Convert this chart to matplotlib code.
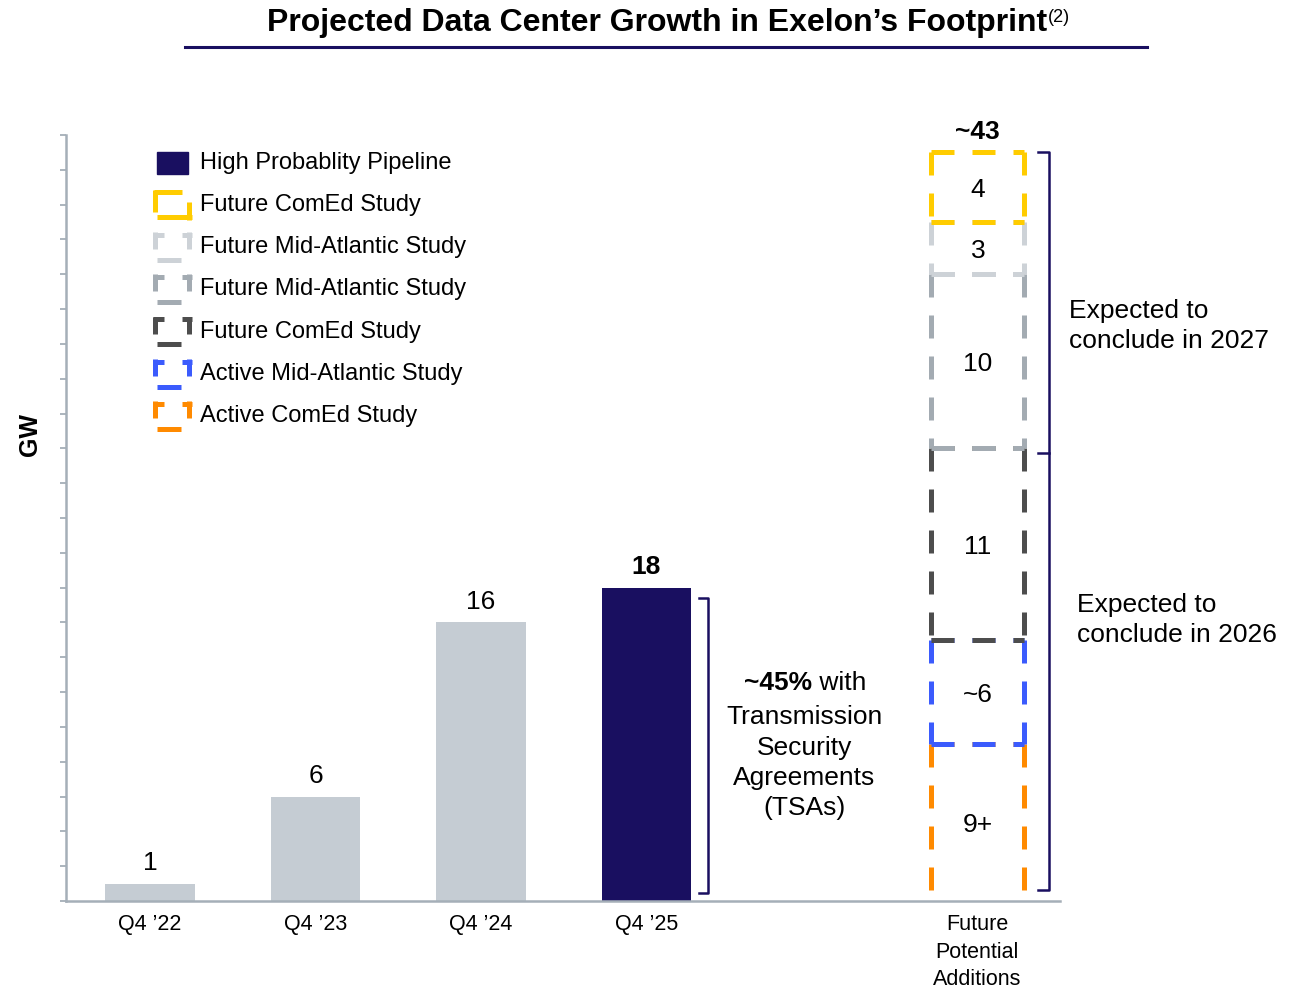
import matplotlib
matplotlib.use("Agg")
import matplotlib.pyplot as plt
from matplotlib.lines import Line2D
from matplotlib.transforms import Affine2D
import numpy as np

plt.rcParams['font.family'] = ['Liberation Sans', 'DejaVu Sans']

# ---- data ----
periods = ["Q4 \u201922", "Q4 \u201923", "Q4 \u201924", "Q4 \u201925"]
gw = [1, 6, 16, 18]
bar_colors = ["#c5ccd3", "#c5ccd3", "#c5ccd3", "#190f60"]

future_label = "Future\nPotential\nAdditions"
future_gw = [9, 6, 11, 10, 3, 4]
future_text = ["9+", "~6", "11", "10", "3", "4"]
future_colors = ["#ff8a00", "#3b5bfd", "#4d4d4d", "#a3abb2", "#cdd2d7", "#ffcc00"]
future_total = "~43"

legend_names = ["High Probablity Pipeline", "Future ComEd Study", "Future Mid-Atlantic Study",
                "Future Mid-Atlantic Study", "Future ComEd Study", "Active Mid-Atlantic Study",
                "Active ComEd Study"]
legend_colors = ["#190f60", "#ffcc00", "#cdd2d7", "#a3abb2", "#4d4d4d", "#3b5bfd", "#ff8a00"]

navy = "#190f60"
axis_gray = "#a5afb8"

W, H = 1299, 989
fig = plt.figure(figsize=(W / 100, H / 100), dpi=100)
ax = fig.add_axes([66 / W, 1 - 901 / H, (1060 - 66) / W, (901 - 135) / H])
px = Affine2D().scale(1 / W, -1 / H).translate(0, 1) + fig.transFigure

# bars
x = np.arange(len(gw))
ax.bar(x, gw, width=0.54, color=bar_colors, zorder=2)
for xi, v in zip(x, gw):
    ax.annotate(str(v), (xi, v), xytext=(0, 14.5), textcoords='offset points',
                ha='center', va='center', fontsize=19,
                fontweight='bold' if v == gw[-1] else 'normal')

# future stacked dashed boxes
fx = 5
hw = 0.28
dash = (0, (4.6, 3.6))
bottoms = np.concatenate([[0], np.cumsum(future_gw)[:-1]])
for i, (b, h, c, t) in enumerate(zip(bottoms, future_gw, future_colors, future_text)):
    top = b + h
    kw = dict(color=c, lw=3.6, linestyle=dash, solid_capstyle='butt', dash_capstyle='butt', zorder=3)
    ax.plot([fx - hw, fx - hw], [top, b], **kw)
    ax.plot([fx + hw, fx + hw], [top, b], **kw)
    ax.plot([fx - hw, fx + hw], [top, top], **kw)
    if i > 0:
        ax.plot([fx - hw, fx + hw], [b, b], **kw)
    ax.annotate(t, (fx, b + h / 2), xytext=(0.5, -2), textcoords='offset points',
                ha='center', va='center', fontsize=19)
ax.annotate(future_total, (fx, sum(future_gw)), xytext=(0, 14.5), textcoords='offset points',
            ha='center', va='center', fontsize=19, fontweight='bold')

# brackets
bk = dict(color=navy, lw=1.8, clip_on=False, zorder=4)
ax.plot([3.32, 3.37, 3.37, 3.32], [17.4, 17.4, 0.45, 0.45], **bk)
ax.plot([5.37, 5.434, 5.434, 5.37], [43.05, 43.05, 0.63, 0.63], **bk)
ax.plot([5.37, 5.434], [25.75, 25.75], **bk)

# annotations
ax.text(4.0, 12.5, "~45%", ha='right', va='center', fontsize=19, fontweight='bold')
ax.text(4.0, 12.5, " with", ha='left', va='center', fontsize=19)
ax.text(3.955, 7.95, "Transmission\nSecurity\nAgreements\n(TSAs)", ha='center', va='center',
        fontsize=19, linespacing=1.32)
ax.text(5.556, 33.05, "Expected to\nconclude in 2027", ha='left', va='center', fontsize=19,
        linespacing=1.32)
ax.text(5.604, 16.15, "Expected to\nconclude in 2026", ha='left', va='center', fontsize=19,
        linespacing=1.32)

# axes styling
ax.set_xlim(-0.508, 5.5)
ax.set_ylim(0, 44)
ax.set_xticks(list(x) + [fx])
ax.set_xticklabels(periods + [future_label], fontsize=15.5)
for lab in ax.get_xticklabels():
    lab.set_linespacing(1.4)
ax.tick_params(axis='x', length=0, pad=9.5)
ax.set_yticks(np.arange(0, 45, 2))
ax.set_yticklabels([])
ax.tick_params(axis='y', direction='out', length=4.5, width=1.3, color=axis_gray)
for s in ['top', 'right']:
    ax.spines[s].set_visible(False)
for s in ['left', 'bottom']:
    ax.spines[s].set_color(axis_gray)
    ax.spines[s].set_linewidth(1.8)
ax.patch.set_alpha(0)

fig.text(30 / W, 1 - 434 / H, "GW", rotation=90, ha='center', va='center', fontsize=18, fontweight='bold')

# title
fig.text(267 / W, 1 - 23 / H, "Projected Data Center Growth in Exelon\u2019s Footprint",
         ha='left', va='center', fontsize=23, fontweight='bold')
fig.text(1048 / W, 1 - 17 / H, "(2)", ha='left', va='center', fontsize=13)
fig.add_artist(Line2D([185, 1147], [47, 47], transform=px, color=navy, lw=2.2))

# legend drawn by hand
for i, (name, c) in enumerate(zip(legend_names, legend_colors)):
    yc = 162.5 + i * 42.3
    fig.text(200 / W, 1 - yc / H, name, ha='left', va='center', fontsize=17)
    lk = dict(transform=px, color=c, lw=3.6, solid_capstyle='butt')
    if i == 0:
        fig.add_artist(plt.Rectangle((157, yc - 11), 31, 22, transform=px, color=c))
        continue
    x0, x1, yt, yb = 153, 192, yc - 15, yc + 15
    if i == 1:
        fig.add_artist(Line2D([x0 + 1, x0 + 29], [yt + 2.5, yt + 2.5], **lk))
        fig.add_artist(Line2D([x0 + 2.5, x0 + 2.5], [yt, yt + 22], **lk))
        fig.add_artist(Line2D([x1 - 2.5, x1 - 2.5], [yt + 12, yb], **lk))
        fig.add_artist(Line2D([x0 + 4, x1], [yb - 2.5, yb - 2.5], **lk))
    else:
        fig.add_artist(Line2D([x0, x0 + 11], [yt + 2.5, yt + 2.5], **lk))
        fig.add_artist(Line2D([x0 + 2.5, x0 + 2.5], [yt, yt + 17], **lk))
        fig.add_artist(Line2D([x1 - 10, x1], [yt + 2.5, yt + 2.5], **lk))
        fig.add_artist(Line2D([x1 - 2.5, x1 - 2.5], [yt, yt + 17], **lk))
        fig.add_artist(Line2D([x0 + 4, x0 + 28], [yb - 2.5, yb - 2.5], **lk))

fig.savefig("out.png", dpi=100)
